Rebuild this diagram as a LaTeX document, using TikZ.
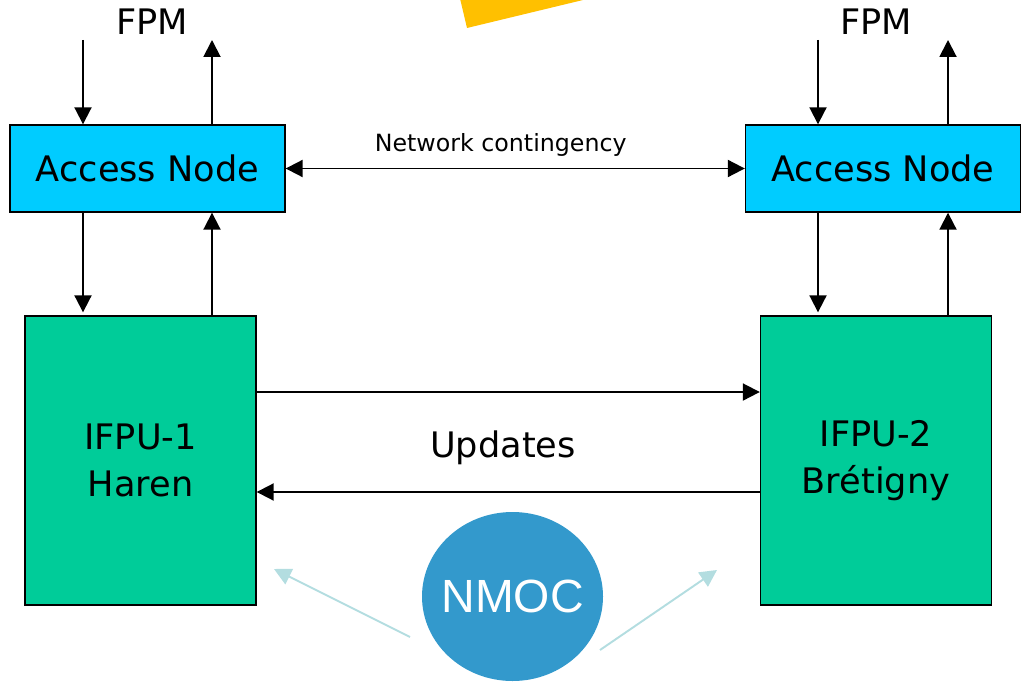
\documentclass[tikz,border=0pt]{standalone}
\usepackage{fontspec}
\setmainfont{DejaVu Sans}
\newfontfamily\nmocfont{Liberation Sans}
\usetikzlibrary{arrows.meta}
\definecolor{accblue}{HTML}{00CCFF}
\definecolor{ifpugreen}{HTML}{00CC99}
\definecolor{nmocblue}{HTML}{3399CC}
\definecolor{hintblue}{HTML}{B3DDE0}
\definecolor{sunyellow}{HTML}{FFC000}
\begin{document}
\begin{tikzpicture}[x=0.02cm,y=-0.02cm]
  \useasboundingbox (0,0) rectangle (1023,682);
  \tikzstyle{AccessStyle}=[draw,line width=0.8pt,fill=accblue,minimum width=5.5cm,minimum height=1.74cm,font=\fontsize{20}{24}\selectfont]
  \tikzstyle{IfpuStyle}=[draw,line width=0.8pt,fill=ifpugreen,minimum width=4.62cm,minimum height=5.78cm,align=center,font=\fontsize{20}{27}\selectfont]
  \tikzstyle{TextStyle}=[font=\fontsize{20}{24}\selectfont]
  \tikzstyle{NmocStyle}=[text=white,font=\nmocfont\fontsize{26.5}{30}\selectfont]
  \tikzstyle{EdgeStyle}=[line width=1.1pt,>={Triangle[length=0.34cm,width=0.34cm]}]
  \tikzstyle{HintStyle}=[line width=1.1pt,draw=hintblue,->,>={Triangle[length=0.34cm,width=0.34cm]}]
  \fill[sunyellow] (458,-10) -- (467,28) -- (583,0) -- (600,-10) -- cycle;
  \node[TextStyle] (fpmL) at (152,22) {FPM};
  \node[TextStyle] (fpmR) at (876,22) {FPM};
  \node[AccessStyle] (accL) at (147.5,168.5) {Access Node};
  \node[AccessStyle] (accR) at (883,168.5) {Access Node};
  \node[IfpuStyle] (ifpuL) at (140.5,460.5) {IFPU-1\\Haren};
  \node[IfpuStyle] (ifpuR) at (876,460.5) {IFPU-2\\Brétigny};
  \node[TextStyle] (upd) at (503,448) {Updates};
  \fill[nmocblue] (512.5,596.5) ellipse [x radius=90.5,y radius=84.5];
  \node[NmocStyle] (nmoc) at (512.5,596.5) {NMOC};
  \coordinate (inL) at (83,40);
  \coordinate (outL) at (212,40);
  \coordinate (inR) at (818,40);
  \coordinate (outR) at (948,40);
  \coordinate (fromL) at (410,637);
  \coordinate (tipL) at (274,569);
  \coordinate (fromR) at (600,650);
  \coordinate (tipR) at (717,570);
  \draw[EdgeStyle,->] (inL) -- (inL |- accL.north);
  \draw[EdgeStyle,->] (outL |- accL.north) -- (outL);
  \draw[EdgeStyle,->] (inR) -- (inR |- accR.north);
  \draw[EdgeStyle,->] (outR |- accR.north) -- (outR);
  \draw[EdgeStyle,->] (inL |- accL.south) -- ([yshift=0.06cm]inL |- ifpuL.north);
  \draw[EdgeStyle,->] (outL |- ifpuL.north) -- (outL |- accL.south);
  \draw[EdgeStyle,->] (inR |- accR.south) -- ([yshift=0.06cm]inR |- ifpuR.north);
  \draw[EdgeStyle,->] (outR |- ifpuR.north) -- (outR |- accR.south);
  \draw[EdgeStyle,<->] (accL) -- node[yshift=0.48cm,xshift=-0.29cm,font=\fontsize{13.5}{16}\selectfont] {Network contingency} (accR);
  \draw[EdgeStyle,->] ([yshift=1.37cm]ifpuL.east) -- ([yshift=1.37cm]ifpuR.west);
  \draw[EdgeStyle,->] ([yshift=-0.63cm]ifpuR.west) -- ([yshift=-0.63cm]ifpuL.east);
  \draw[HintStyle] (fromL) -- (tipL);
  \draw[HintStyle] (fromR) -- (tipR);
\end{tikzpicture}
\end{document}
